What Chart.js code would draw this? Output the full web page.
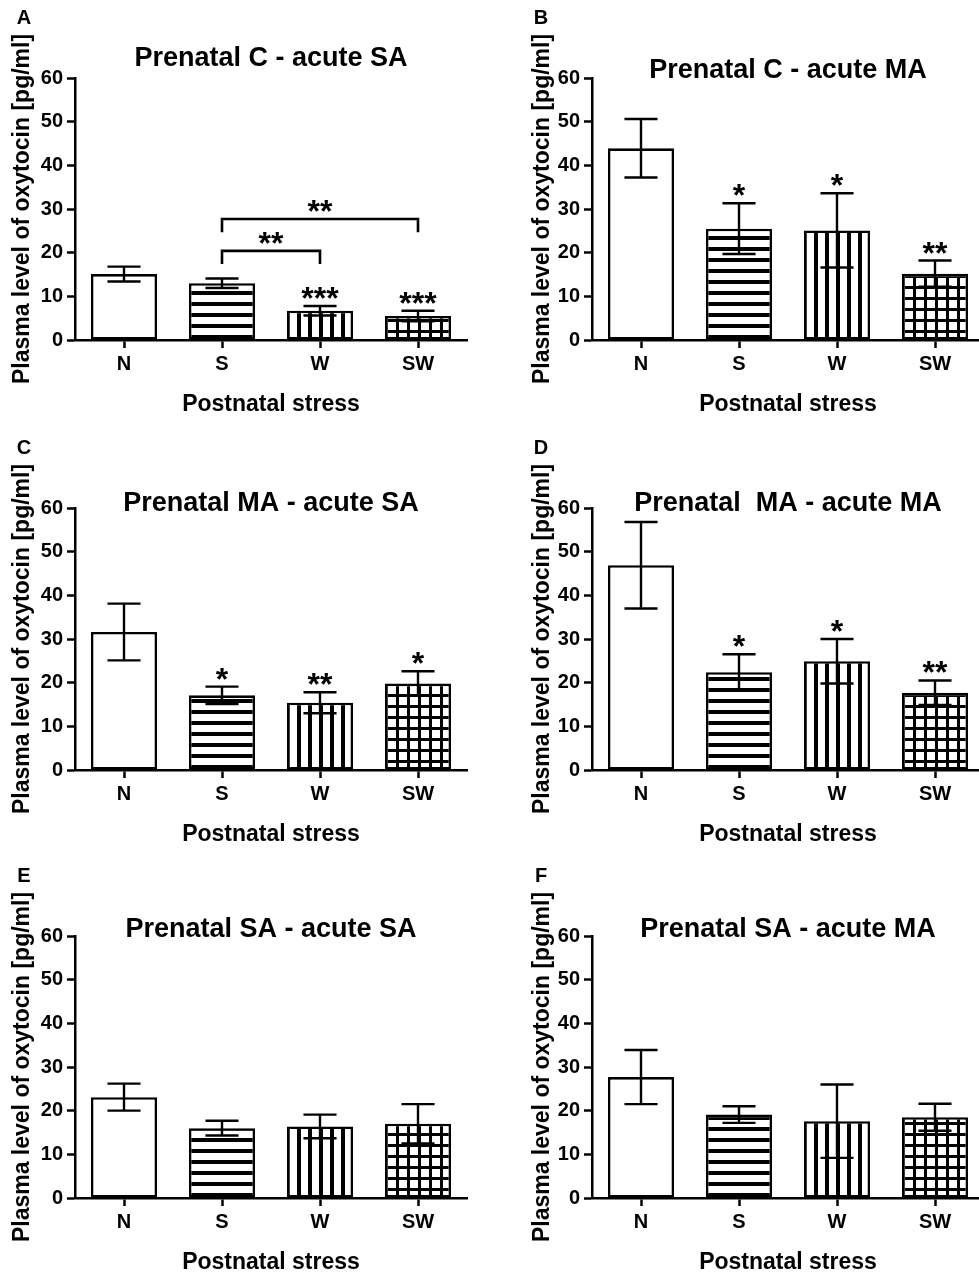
<!DOCTYPE html>
<html>
<head>
<meta charset="utf-8">
<script src="https://cdn.jsdelivr.net/npm/chart.js@4.4.1/dist/chart.umd.min.js"></script>
<style>
  html, body { margin: 0; padding: 0; background: #fff; overflow: hidden; }
  body { width: 979px; height: 1275px; position: relative; }
  .panel { position: absolute; width: 490px; height: 430px; }
  .panel canvas { display: block; }
</style>
</head>
<body>
<div class="panel" style="left:0;top:0"><canvas id="chartA" width="490" height="430"></canvas></div>
<div class="panel" style="left:517px;top:0"><canvas id="chartB" width="490" height="430"></canvas></div>
<div class="panel" style="left:0;top:430px"><canvas id="chartC" width="490" height="430"></canvas></div>
<div class="panel" style="left:517px;top:430px"><canvas id="chartD" width="490" height="430"></canvas></div>
<div class="panel" style="left:0;top:858px"><canvas id="chartE" width="490" height="430"></canvas></div>
<div class="panel" style="left:517px;top:858px"><canvas id="chartF" width="490" height="430"></canvas></div>
<script>
const categories = ['N', 'S', 'W', 'SW'];
const yTickValues = [0, 10, 20, 30, 40, 50, 60];
const xTitle = 'Postnatal stress';
const yTitle = 'Plasma level of oxytocin [pg/ml]';

// mean and SEM per group
const meansA = [15.1, 13.0, 6.7, 5.5];
const semsA = [1.7, 1.1, 1.1, 1.2];
const starsA = ['', '', '***', '***'];
const bracketsA = [
  { from: 1, to: 2, value: 20.4, end: 17.4, label: '**' },
  { from: 1, to: 3, value: 27.7, end: 24.7, label: '**' }
];

const meansB = [43.9, 25.5, 25.1, 15.2];
const semsB = [6.7, 5.8, 8.5, 3.0];
const starsB = ['', '*', '*', '**'];

const meansC = [31.6, 17.1, 15.4, 19.8];
const semsC = [6.5, 2.0, 2.4, 2.8];
const starsC = ['', '*', '**', '*'];

const meansD = [46.9, 22.4, 24.9, 17.7];
const semsD = [9.9, 4.1, 5.1, 2.8];
const starsD = ['', '*', '*', '**'];

const meansE = [23.1, 16.0, 16.4, 17.0];
const semsE = [3.1, 1.7, 2.7, 4.5];

const meansF = [27.7, 19.1, 17.6, 18.5];
const semsF = [6.2, 1.9, 8.4, 3.1];

const FONT = '"Liberation Sans", Arial, sans-serif';
Chart.defaults.font.family = FONT;
Chart.defaults.color = '#000';

function makePattern(kind) {
  const size = 11;
  const c = document.createElement('canvas');
  c.width = size; c.height = size;
  const g = c.getContext('2d');
  g.fillStyle = '#fff';
  g.fillRect(0, 0, size, size);
  g.fillStyle = '#000';
  const t = kind === 'grid' ? 3 : 4;
  if (kind === 'h' || kind === 'grid') g.fillRect(0, 0, size, t);
  if (kind === 'v' || kind === 'grid') g.fillRect(0, 0, t, size);
  const p = g.createPattern(c, 'repeat');
  if (kind === 'h') p.setTransform(new DOMMatrix().translate(0, 5));
  return p;
}
const fills = ['#fff', makePattern('h'), makePattern('v'), makePattern('grid')];

const decor = {
  id: 'decor',
  afterDatasetsDraw(chart) {
    const o = chart.options.plugins.decor;
    const ctx = chart.ctx;
    const ys = chart.scales.y;
    const bars = chart.getDatasetMeta(0).data;
    const means = chart.data.datasets[0].data;
    ctx.save();
    ctx.strokeStyle = '#000';
    ctx.fillStyle = '#000';
    ctx.lineWidth = 2.4;
    bars.forEach((bar, i) => {
      const top = ys.getPixelForValue(means[i] + o.sems[i]);
      const bot = ys.getPixelForValue(means[i] - o.sems[i]);
      const half = bar.width / 4;
      ctx.beginPath();
      ctx.moveTo(bar.x, top); ctx.lineTo(bar.x, bot);
      ctx.moveTo(bar.x - half, top); ctx.lineTo(bar.x + half, top);
      ctx.moveTo(bar.x - half, bot); ctx.lineTo(bar.x + half, bot);
      ctx.stroke();
      const s = o.stars ? o.stars[i] : '';
      if (s) {
        ctx.font = 'bold 32px ' + FONT;
        ctx.textAlign = 'center';
        ctx.textBaseline = 'alphabetic';
        ctx.fillText(s, bar.x, top + 3);
      }
    });
    (o.brackets || []).forEach(b => {
      const x1 = bars[b.from].x, x2 = bars[b.to].x;
      const y = ys.getPixelForValue(b.value);
      const yEnd = ys.getPixelForValue(b.end);
      ctx.lineWidth = 2.6;
      ctx.beginPath();
      ctx.moveTo(x1, yEnd); ctx.lineTo(x1, y); ctx.lineTo(x2, y); ctx.lineTo(x2, yEnd);
      ctx.stroke();
      ctx.font = 'bold 32px ' + FONT;
      ctx.textAlign = 'center';
      ctx.textBaseline = 'alphabetic';
      ctx.fillText(b.label, (x1 + x2) / 2, y + 3);
    });
    ctx.restore();
  },
  afterDraw(chart) {
    const o = chart.options.plugins.decor;
    const ctx = chart.ctx;
    const area = chart.chartArea;
    ctx.save();
    ctx.fillStyle = '#000';
    ctx.textAlign = 'center';
    ctx.textBaseline = 'middle';
    ctx.font = 'bold 20px ' + FONT;
    ctx.fillText(o.letter, 24, 18);
    ctx.font = 'bold 27px ' + FONT;
    ctx.fillText(o.title, (area.left + area.right) / 2, area.top - o.titleGap);
    ctx.restore();
  }
};

function buildPanel(id, p) {
  return new Chart(document.getElementById(id), {
    type: 'bar',
    data: {
      labels: categories,
      datasets: [{
        data: p.means,
        backgroundColor: fills,
        borderColor: '#000',
        borderWidth: 2.6,
        borderSkipped: false,
        categoryPercentage: 1,
        barPercentage: 0.675
      }]
    },
    options: {
      responsive: false,
      animation: false,
      events: [],
      layout: { padding: { left: 0, right: 23, top: 78, bottom: 10 } },
      plugins: {
        legend: { display: false },
        tooltip: { enabled: false },
        decor: p
      },
      scales: {
        x: {
          offset: true,
          grid: { offset: false, drawOnChartArea: false, tickLength: 8, tickWidth: 2.5, tickColor: '#000' },
          border: { color: '#000', width: 2.5 },
          ticks: { color: '#000', font: { size: 20, weight: 'bold' }, padding: 4, maxRotation: 0 },
          title: { display: true, text: xTitle, color: '#000', font: { size: 23, weight: 'bold' }, padding: { top: 0, bottom: 2 } },
          afterFit(s) { s.height = 80; }
        },
        y: {
          min: 0,
          max: 60,
          afterBuildTicks(s) { s.ticks = yTickValues.map(v => ({ value: v })); },
          grid: { drawOnChartArea: false, tickLength: 8, tickWidth: 2.5, tickColor: '#000' },
          border: { color: '#000', width: 2.5 },
          ticks: { color: '#000', font: { size: 20, weight: 'bold' }, padding: 4 },
          title: { display: true, text: yTitle, color: '#000', font: { size: 23, weight: 'bold' }, padding: { top: p.yTitlePad, bottom: 0 } },
          afterFit(s) { s.width = 75; }
        }
      }
    },
    plugins: [decor]
  });
}

buildPanel('chartA', { letter: 'A', title: 'Prenatal C - acute SA', titleGap: 19.5, yTitlePad: 9, means: meansA, sems: semsA, stars: starsA, brackets: bracketsA });
buildPanel('chartB', { letter: 'B', title: 'Prenatal C - acute MA', titleGap: 7, yTitlePad: 12, means: meansB, sems: semsB, stars: starsB });
buildPanel('chartC', { letter: 'C', title: 'Prenatal MA - acute SA', titleGap: 4.5, yTitlePad: 9, means: meansC, sems: semsC, stars: starsC });
buildPanel('chartD', { letter: 'D', title: 'Prenatal  MA - acute MA', titleGap: 4.5, yTitlePad: 12, means: meansD, sems: semsD, stars: starsD });
buildPanel('chartE', { letter: 'E', title: 'Prenatal SA - acute SA', titleGap: 6.5, yTitlePad: 9, means: meansE, sems: semsE });
buildPanel('chartF', { letter: 'F', title: 'Prenatal SA - acute MA', titleGap: 6.5, yTitlePad: 12, means: meansF, sems: semsF });
</script>
</body>
</html>
